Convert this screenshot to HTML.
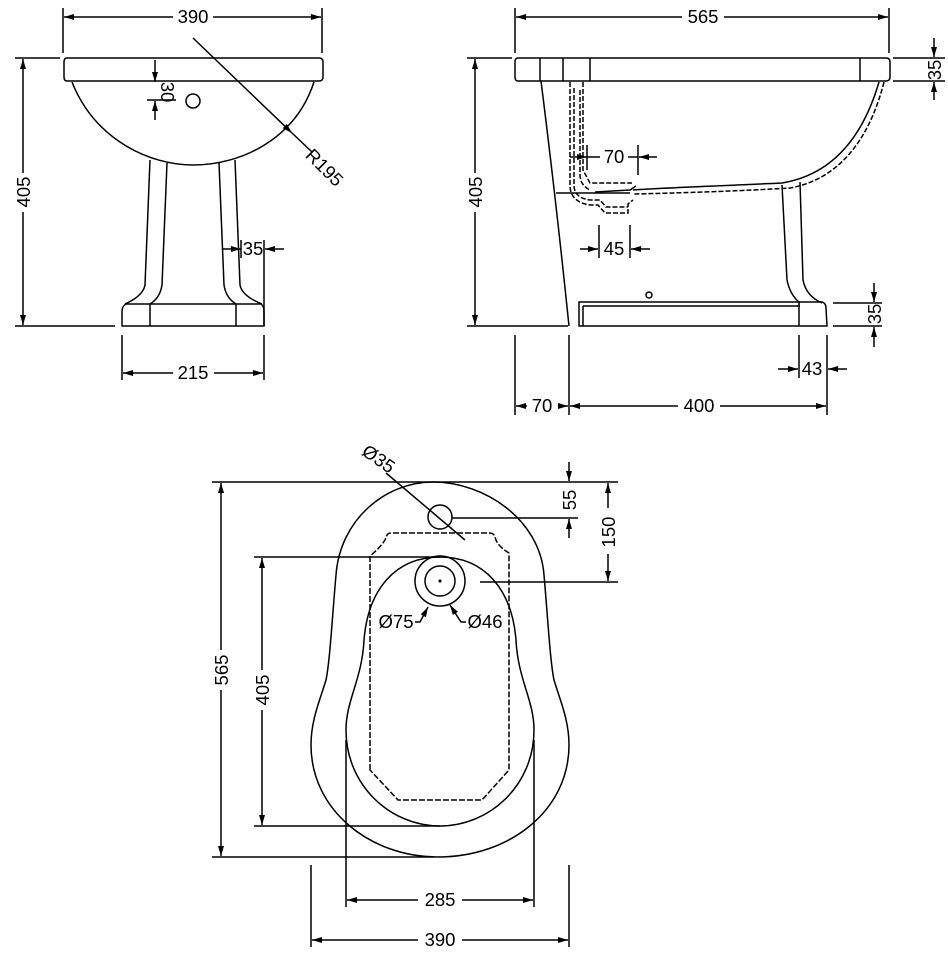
<!DOCTYPE html>
<html><head><meta charset="utf-8"><style>
html,body{margin:0;padding:0;background:#fff;}
svg{display:block;}
text{font-family:"Liberation Sans","DejaVu Sans",sans-serif;font-size:18.5px;fill:#000;}
</style></head><body>
<svg width="948" height="957" viewBox="0 0 948 957" xmlns="http://www.w3.org/2000/svg">
<defs>
<marker id="a" viewBox="0 0 10 6" refX="10" refY="3" markerWidth="10" markerHeight="6" orient="auto-start-reverse" markerUnits="userSpaceOnUse"><path d="M0,0 L10,3 L0,6z" fill="#000"/></marker>
</defs>
<g fill="none" stroke="#000" stroke-width="1.5">
<!-- ===== FRONT VIEW ===== -->
<line x1="63" y1="8" x2="63" y2="53"/><line x1="322" y1="8" x2="322" y2="53"/>
<line x1="64" y1="17" x2="173" y2="17" marker-start="url(#a)"/><line x1="213" y1="17" x2="321" y2="17" marker-end="url(#a)"/>
<path d="M67,58 H319 Q323,58 323,62 V77 Q323,81 319,81 H67 Q64,81 64,77 V62 Q64,58 67,58z"/>
<path d="M72,82 C95,140 150,165 193,165 C240,165 295,140 314,82"/>
<circle cx="193" cy="101" r="7"/>
<line x1="155" y1="60" x2="155" y2="82" marker-end="url(#a)"/><line x1="155" y1="120" x2="155" y2="101" marker-end="url(#a)"/>
<line x1="147" y1="100" x2="176" y2="100"/>
<line x1="193" y1="38" x2="292" y2="133" marker-end="url(#a)"/><line x1="292" y1="133" x2="312" y2="152"/>
<path d="M150,160 L145,285 Q143,296 125,304"/>
<path d="M167,163 L162,285 Q160,298 150,304"/>
<path d="M219,163 L224,285 Q226,298 236,304"/>
<path d="M235,160 L240,285 Q242,296 262,304"/>
<path d="M126,304 H261 Q264,306 264,312 V326 H122 V312 Q122,306 126,304z"/>
<line x1="150" y1="304" x2="150" y2="326"/><line x1="236" y1="304" x2="236" y2="326"/>
<line x1="222" y1="249" x2="241" y2="249" marker-end="url(#a)"/><line x1="284" y1="249" x2="265" y2="249" marker-end="url(#a)"/>
<line x1="241" y1="240" x2="241" y2="258"/><line x1="264" y1="240" x2="264" y2="326"/>
<line x1="15" y1="58" x2="60" y2="58"/><line x1="15" y1="326" x2="115" y2="326"/>
<line x1="23" y1="59" x2="23" y2="173" marker-start="url(#a)"/><line x1="23" y1="212" x2="23" y2="325" marker-end="url(#a)"/>
<line x1="122" y1="335" x2="122" y2="380"/><line x1="264" y1="335" x2="264" y2="380"/>
<line x1="123" y1="373" x2="173" y2="373" marker-start="url(#a)"/><line x1="214" y1="373" x2="263" y2="373" marker-end="url(#a)"/>

<!-- ===== SIDE VIEW ===== -->
<line x1="515" y1="8" x2="515" y2="53"/><line x1="889" y1="8" x2="889" y2="53"/>
<line x1="516" y1="17" x2="682" y2="17" marker-start="url(#a)"/><line x1="724" y1="17" x2="888" y2="17" marker-end="url(#a)"/>
<path d="M518,58 H886 Q890,58 890,62 V77 Q890,81 886,81 H518 Q515,81 515,77 V62 Q515,58 518,58z"/>
<line x1="540" y1="58" x2="540" y2="81"/><line x1="563" y1="58" x2="563" y2="81"/><line x1="590" y1="58" x2="590" y2="81"/><line x1="860" y1="58" x2="860" y2="81"/>
<path d="M541,81 Q556,200 569,326"/>
<path d="M879,82 C862,140 830,175 782,183 C720,186 660,188 633,190"/>
<path d="M884,82 C868,145 835,180 790,188 C740,191 680,193 633,194" stroke-dasharray="5,2"/>
<path d="M636,186 L630,190 L595,192" />
<path d="M570,82 V185 Q570,202 590,205 H598 L605,213 H628 V204 L633,200" stroke-dasharray="5,2"/>
<path d="M574,88 V185 Q574,198 590,200 H600 L606,207 H628" stroke-dasharray="5,2"/>
<path d="M583,82 V170 L590,183 H632" stroke-dasharray="5,2"/>
<path d="M580,90 V175 Q580,185 590,190" stroke-dasharray="5,2"/>
<line x1="556" y1="193" x2="630" y2="193"/>
<path d="M782,185 L787,280 Q790,295 800,303"/>
<path d="M800,182 L803,280 Q806,296 822,303"/>
<path d="M579,302 H822 Q826,303 826,308 L827,326 H579z"/>
<line x1="583" y1="306" x2="583" y2="326"/><line x1="583" y1="306" x2="800" y2="306"/>
<line x1="799" y1="303" x2="799" y2="326"/>
<circle cx="649" cy="295" r="3"/>
<line x1="467" y1="58" x2="512" y2="58"/><line x1="467" y1="326" x2="568" y2="326"/>
<line x1="475" y1="59" x2="475" y2="173" marker-start="url(#a)"/><line x1="475" y1="212" x2="475" y2="325" marker-end="url(#a)"/>
<line x1="893" y1="58" x2="945" y2="58"/><line x1="893" y1="81" x2="945" y2="81"/>
<line x1="934" y1="38" x2="934" y2="57" marker-end="url(#a)"/><line x1="934" y1="100" x2="934" y2="82" marker-end="url(#a)"/>
<line x1="587" y1="145" x2="587" y2="170"/><line x1="638" y1="145" x2="638" y2="175"/>
<line x1="570" y1="157" x2="587" y2="157" marker-end="url(#a)"/><line x1="587" y1="157" x2="600" y2="157"/>
<line x1="628" y1="157" x2="638" y2="157"/><line x1="657" y1="157" x2="639" y2="157" marker-end="url(#a)"/>
<line x1="599" y1="225" x2="599" y2="258"/><line x1="630" y1="225" x2="630" y2="258"/>
<line x1="580" y1="249" x2="598" y2="249" marker-end="url(#a)"/><line x1="650" y1="249" x2="631" y2="249" marker-end="url(#a)"/>
<line x1="833" y1="303" x2="882" y2="303"/><line x1="833" y1="326" x2="882" y2="326"/>
<line x1="874" y1="283" x2="874" y2="302" marker-end="url(#a)"/><line x1="874" y1="347" x2="874" y2="327" marker-end="url(#a)"/>
<line x1="799" y1="335" x2="799" y2="378"/><line x1="827" y1="335" x2="827" y2="415"/>
<line x1="778" y1="369" x2="798" y2="369" marker-end="url(#a)"/><line x1="847" y1="369" x2="828" y2="369" marker-end="url(#a)"/>
<line x1="515" y1="335" x2="515" y2="415"/><line x1="569" y1="335" x2="569" y2="415"/>
<line x1="516" y1="406" x2="527" y2="406" marker-start="url(#a)"/><line x1="558" y1="406" x2="568" y2="406" marker-end="url(#a)"/>
<line x1="570" y1="406" x2="678" y2="406" marker-start="url(#a)"/><line x1="720" y1="406" x2="826" y2="406" marker-end="url(#a)"/>

<!-- ===== PLAN VIEW ===== -->
<path d="M433,482 C385,482 340,520 336,575 C332,620 330,660 326,680 C320,700 311,720 311,745 C311,810 370,857 438,857 C510,857 569,810 569,745 C569,720 560,700 554,680 C550,660 548,620 544,575 C540,520 485,482 433,482z"/>
<path d="M440,557 C395,557 368,590 364,640 C362,680 346,700 346,730 C346,785 390,826 440,826 C490,826 534,785 534,730 C534,700 518,680 516,640 C512,590 485,557 440,557z"/>
<path d="M370,770 V556 Q380,548 385,540 L387,535 Q388,533 392,533 H489 Q494,533 495,537 Q497,546 509,553 V770 L482,800 H398z" stroke-dasharray="6,2"/>
<circle cx="440" cy="517" r="12"/>
<circle cx="440" cy="581" r="25"/><circle cx="440" cy="581" r="15"/>
<circle cx="440" cy="581" r="0.8" fill="#000"/>
<line x1="386" y1="473" x2="465" y2="540"/>
<line x1="212" y1="482" x2="618" y2="482"/><line x1="212" y1="857" x2="433" y2="857"/>
<line x1="221" y1="483" x2="221" y2="650" marker-start="url(#a)"/><line x1="221" y1="690" x2="221" y2="856" marker-end="url(#a)"/>
<line x1="254" y1="557" x2="440" y2="557"/><line x1="254" y1="826" x2="440" y2="826"/>
<line x1="262" y1="558" x2="262" y2="670" marker-start="url(#a)"/><line x1="262" y1="710" x2="262" y2="825" marker-end="url(#a)"/>
<line x1="452" y1="518" x2="578" y2="518"/><line x1="480" y1="582" x2="618" y2="582"/>
<line x1="569" y1="462" x2="569" y2="481" marker-end="url(#a)"/><line x1="569" y1="538" x2="569" y2="519" marker-end="url(#a)"/>
<line x1="608" y1="483" x2="608" y2="508" marker-start="url(#a)"/><line x1="608" y1="554" x2="608" y2="581" marker-end="url(#a)"/>
<line x1="346" y1="740" x2="346" y2="907"/><line x1="534" y1="740" x2="534" y2="907"/>
<line x1="347" y1="900" x2="418" y2="900" marker-start="url(#a)"/><line x1="462" y1="900" x2="533" y2="900" marker-end="url(#a)"/>
<line x1="311" y1="865" x2="311" y2="947"/><line x1="569" y1="865" x2="569" y2="947"/>
<line x1="312" y1="940" x2="418" y2="940" marker-start="url(#a)"/><line x1="462" y1="940" x2="568" y2="940" marker-end="url(#a)"/>
<path d="M415,622 H420 L428,607" marker-end="url(#a)"/>
<path d="M466,622 H461 L450,605" marker-end="url(#a)"/>
</g>
<g>
<text x="193" y="23" text-anchor="middle">390</text>
<text x="0" y="0" text-anchor="middle" transform="translate(161,92) rotate(90)">30</text>
<text x="0" y="0" text-anchor="middle" transform="translate(320,172) rotate(45)">R195</text>
<text x="0" y="0" text-anchor="middle" transform="translate(30,192) rotate(-90)">405</text>
<text x="253" y="255" text-anchor="middle">35</text>
<text x="193" y="379" text-anchor="middle">215</text>
<text x="703" y="23" text-anchor="middle">565</text>
<text x="0" y="0" text-anchor="middle" transform="translate(482,192) rotate(-90)">405</text>
<text x="0" y="0" text-anchor="middle" transform="translate(941,70) rotate(-90)">35</text>
<text x="614" y="163" text-anchor="middle">70</text>
<text x="614" y="255" text-anchor="middle">45</text>
<text x="0" y="0" text-anchor="middle" transform="translate(881,314) rotate(-90)">35</text>
<text x="812" y="375" text-anchor="middle">43</text>
<text x="542" y="412" text-anchor="middle">70</text>
<text x="699" y="412" text-anchor="middle">400</text>
<text x="0" y="0" text-anchor="middle" transform="translate(375,464) rotate(35)">Ø35</text>
<text x="0" y="0" text-anchor="middle" transform="translate(228,670) rotate(-90)">565</text>
<text x="0" y="0" text-anchor="middle" transform="translate(269,690) rotate(-90)">405</text>
<text x="0" y="0" text-anchor="middle" transform="translate(576,500) rotate(-90)">55</text>
<text x="0" y="0" text-anchor="middle" transform="translate(615,532) rotate(-90)">150</text>
<text x="396" y="628" text-anchor="middle">Ø75</text>
<text x="485" y="628" text-anchor="middle">Ø46</text>
<text x="440" y="906" text-anchor="middle">285</text>
<text x="440" y="946" text-anchor="middle">390</text>
</g>
</svg>
</body></html>
